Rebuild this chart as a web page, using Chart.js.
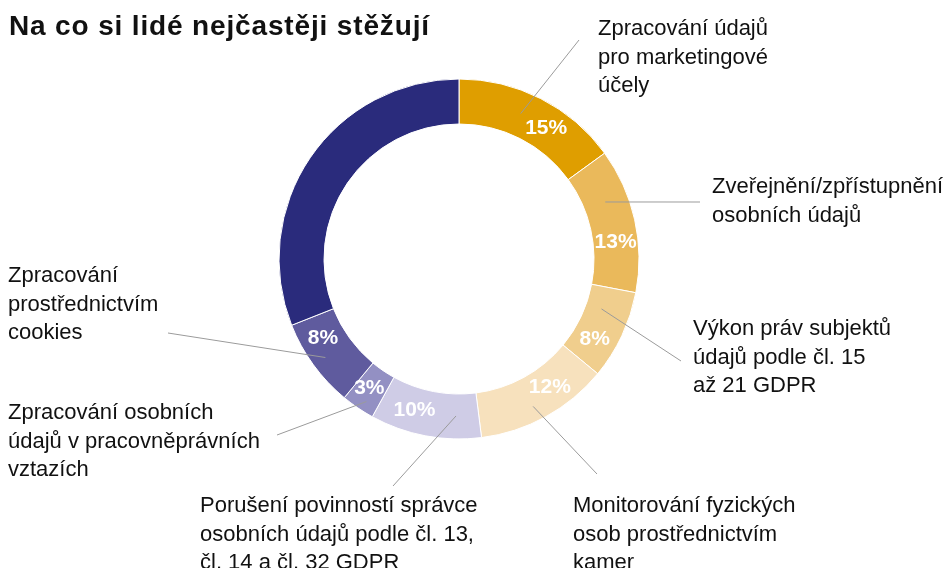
<!DOCTYPE html>
<html>
<head>
<meta charset="utf-8">
<script src="https://cdn.jsdelivr.net/npm/chart.js@4"></script>
<style>
  html, body { margin: 0; padding: 0; background: #fff; }
  #wrap { width: 948px; height: 568px; }
</style>
</head>
<body>
<div id="wrap"><canvas id="chart"></canvas></div>
<script>
// kategorie stížností (víceřádkové popisky)
const categories = [
    ['Zpracování údajů', 'pro marketingové', 'účely'],
    ['Zveřejnění/zpřístupnění', 'osobních údajů'],
    ['Výkon práv subjektů', 'údajů podle čl. 15', 'až 21 GDPR'],
    ['Monitorování fyzických', 'osob prostřednictvím', 'kamer'],
    ['Porušení povinností správce', 'osobních údajů podle čl. 13,', 'čl. 14 a čl. 32 GDPR'],
    ['Zpracování osobních', 'údajů v pracovněprávních', 'vztazích'],
    ['Zpracování', 'prostřednictvím', 'cookies'],
    []  // ostatní - bez popisku
];
const shares = [15, 13, 8, 12, 10, 3, 8, 31];
const pctLabels = ['15%', '13%', '8%', '12%', '10%', '3%', '8%', ''];
const colors = ['#DF9E00', '#EAB95B', '#F0CE8D', '#F7E1BD', '#CFCCE6', '#9390C3', '#5F5B9E', '#2A2B7C'];

// rozmístění popisků kolem prstence (jen layout)
const callouts = [
    { nudge: -4,   r: 158, end: [579, 40],  x: 598, y: 35 },
    { nudge: -8.7, r: 157, end: [700, 202], x: 712, y: 193 },
    { nudge: -5.9, r: 151, end: [681, 361], x: 693, y: 335 },
    { nudge: 2.1,  r: 165, end: [597, 474], x: 573, y: 512 },
    { nudge: -9.7, r: 157, end: [393, 486], x: 200, y: 512 },
    { nudge: -1.2, r: 170, end: [277, 435], x: 8,   y: 419 },
    { nudge: -0.4, r: 166, end: [168, 333], x: 8,   y: 282 }
];
const pctNudge = [6.6, 6.5, 5.3, -6.4, 5.6, 0.5, 5.7, 0];

// procenta uvnitř prstence + popisky s vodicími čarami
const calloutPlugin = {
    id: 'callouts',
    beforeDraw(chart) {
        chart.ctx.letterSpacing = '0.85px';  // jen pro nadpis
    },
    beforeDatasetsDraw(chart) {
        chart.ctx.letterSpacing = '0px';
    },
    afterDatasetsDraw(chart) {
        const ctx = chart.ctx;
        const arcs = chart.getDatasetMeta(0).data;
        ctx.save();
        ctx.letterSpacing = '0px';

        // vodicí čáry
        ctx.strokeStyle = '#9b9b9b';
        ctx.lineWidth = 1;
        callouts.forEach(function (c, i) {
            const a = arcs[i];
            const mid = (a.startAngle + a.endAngle) / 2 + c.nudge * Math.PI / 180;
            ctx.beginPath();
            ctx.moveTo(a.x + Math.cos(mid) * c.r, a.y + Math.sin(mid) * c.r);
            ctx.lineTo(c.end[0], c.end[1]);
            ctx.stroke();
        });

        // procenta
        ctx.fillStyle = '#fff';
        ctx.font = 'bold 21px "Liberation Sans", Arial, sans-serif';
        ctx.textAlign = 'center';
        ctx.textBaseline = 'middle';
        arcs.forEach(function (a, i) {
            if (!pctLabels[i]) return;
            const r = (a.innerRadius + a.outerRadius) / 2;
            const mid = (a.startAngle + a.endAngle) / 2 + pctNudge[i] * Math.PI / 180;
            ctx.fillText(pctLabels[i], a.x + Math.cos(mid) * r, a.y + Math.sin(mid) * r);
        });

        // textové popisky
        ctx.fillStyle = '#111';
        ctx.font = '22px "Liberation Sans", Arial, sans-serif';
        ctx.textAlign = 'left';
        ctx.textBaseline = 'alphabetic';
        callouts.forEach(function (c, i) {
            categories[i].forEach(function (line, j) {
                ctx.fillText(line, c.x, c.y + j * 28.5);
            });
        });
        ctx.restore();
    }
};

const ctx = document.getElementById('chart').getContext('2d');
new Chart(ctx, {
    type: 'doughnut',
    data: {
        labels: categories,
        datasets: [{
            data: shares,
            backgroundColor: colors,
            borderColor: '#fff',
            borderWidth: 1
        }]
    },
    options: {
        responsive: true,
        maintainAspectRatio: false,
        animation: false,
        cutout: '75%',
        radius: 180,
        layout: {
            padding: { left: 9, right: 39, top: 0, bottom: 129 }
        },
        plugins: {
            legend: { display: false },
            tooltip: { enabled: false },
            title: {
                display: true,
                text: 'Na co si lidé nejčastěji stěžují',
                align: 'start',
                color: '#111',
                font: { family: '"Liberation Sans", Arial, sans-serif', size: 28, weight: 'bold', lineHeight: 1.2 },
                padding: { top: 10, bottom: 35.4 }
            }
        }
    },
    plugins: [calloutPlugin]
});
</script>
</body>
</html>
